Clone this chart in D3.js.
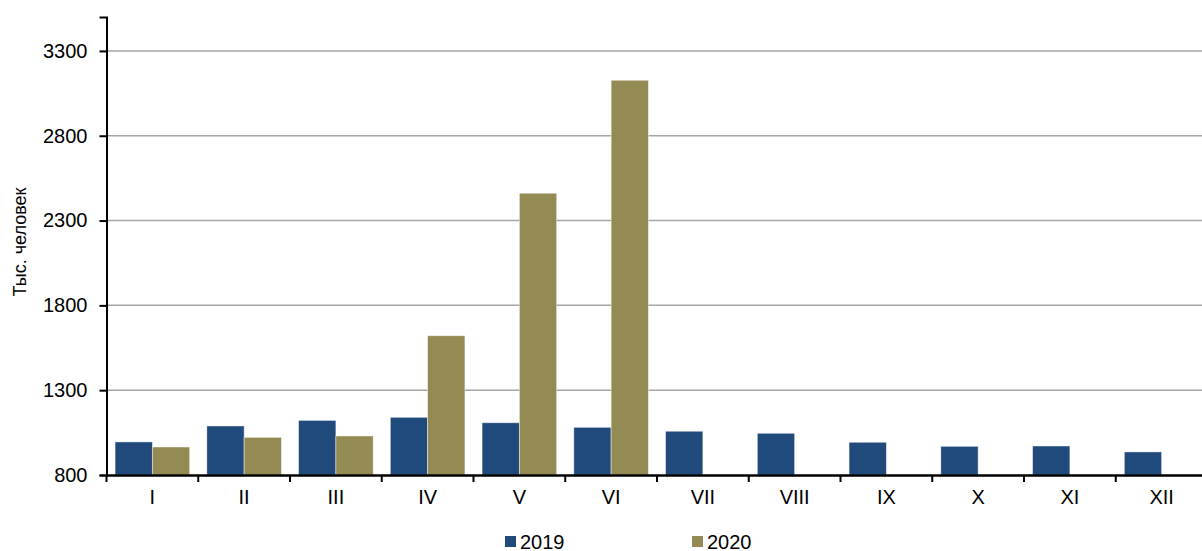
<!DOCTYPE html>
<html><head><meta charset="utf-8">
<script src="https://cdn.jsdelivr.net/npm/d3@7"></script>
<style>
html,body{margin:0;padding:0;background:#fff;overflow:hidden;}
text{font-family:"Liberation Sans",Arial,sans-serif;}
</style></head>
<body>
<svg id="chart" width="1202" height="551"></svg>
<script>
const months = ["I","II","III","IV","V","VI","VII","VIII","IX","X","XI","XII"];
const seriesNames = ["2019","2020"];
const values2019 = [995,1089,1122,1140,1108,1081,1058,1046,993,969,971,936];
const values2020 = [965,1022,1030,1621,2461,3127,null,null,null,null,null,null];
const yTicks = [800,1300,1800,2300,2800,3300];
const colors = ["#214a7c","#948a54"];

const svg = d3.select("#chart");
const W = 1202, H = 551;
const x0 = 106.5, yBase = 475;
const x = d3.scaleBand().domain(months).range([x0, x0 + 12*91.75]).paddingInner(0).paddingOuter(0);
const xs = d3.scaleBand().domain(seriesNames).range([0, x.bandwidth()]).paddingInner(0).paddingOuter(0.23);
const y = d3.scaleLinear().domain([800,3500]).range([yBase, 17]);

// gridlines
svg.append("g").selectAll("line").data(yTicks.filter(d=>d>800)).join("line")
  .attr("x1", x0).attr("x2", W).attr("y1", d=>y(d)).attr("y2", d=>y(d))
  .attr("stroke", "#a6a6a6").attr("stroke-width", 1.5);

// bars
const data = months.map((m,i)=>({m, vals:[values2019[i], values2020[i]]}));
const g = svg.append("g");
data.forEach(d=>{
  d.vals.forEach((v,j)=>{
    if (v == null) return;
    g.append("rect")
      .attr("x", x(d.m) + xs(seriesNames[j]))
      .attr("y", y(v))
      .attr("width", xs.bandwidth())
      .attr("height", y(800) - y(v))
      .attr("fill", colors[j])
      .attr("stroke", "rgba(255,255,255,0.55)")
      .attr("stroke-width", 0.8);
  });
});

// y axis
const yAxis = d3.axisLeft(y).tickValues(yTicks).tickSize(7).tickPadding(12).tickFormat(d3.format("d"));
const ya = svg.append("g").attr("transform", `translate(${x0},0)`).call(yAxis);
ya.select(".domain").attr("stroke","#000").attr("stroke-width",2);
ya.selectAll(".tick line").attr("stroke","#000").attr("stroke-width",2);
ya.selectAll(".tick text").attr("font-size", 20).attr("fill","#000")
  .attr("font-family","Liberation Sans, Arial, sans-serif");

// x axis
const xAxis = d3.axisBottom(x).tickSize(0).tickPadding(15);
const xa = svg.append("g").attr("transform", `translate(0,${yBase})`).call(xAxis);
xa.select(".domain").attr("stroke","#000").attr("stroke-width",2.5);
xa.selectAll(".tick text").attr("font-size", 20).attr("fill","#000")
  .attr("font-family","Liberation Sans, Arial, sans-serif");
// boundary ticks
svg.append("g").selectAll("line").data(months).join("line")
  .attr("x1", d=>x(d)).attr("x2", d=>x(d))
  .attr("y1", yBase).attr("y2", yBase+7)
  .attr("stroke","#000").attr("stroke-width",2);

// y label
svg.append("text")
  .attr("transform", "translate(26,242) rotate(-90)")
  .attr("text-anchor","middle")
  .attr("font-size", 18)
  .attr("fill","#000")
  .text("Тыс. человек");

// legend
const legX = [505, 692];
seriesNames.forEach((s,j)=>{
  svg.append("rect").attr("x", legX[j]).attr("y", 536).attr("width", 11).attr("height", 11).attr("fill", colors[j]);
  svg.append("text").attr("x", legX[j]+15).attr("y", 549).attr("font-size", 20).attr("fill","#000").text(s);
});
</script>
</body></html>
